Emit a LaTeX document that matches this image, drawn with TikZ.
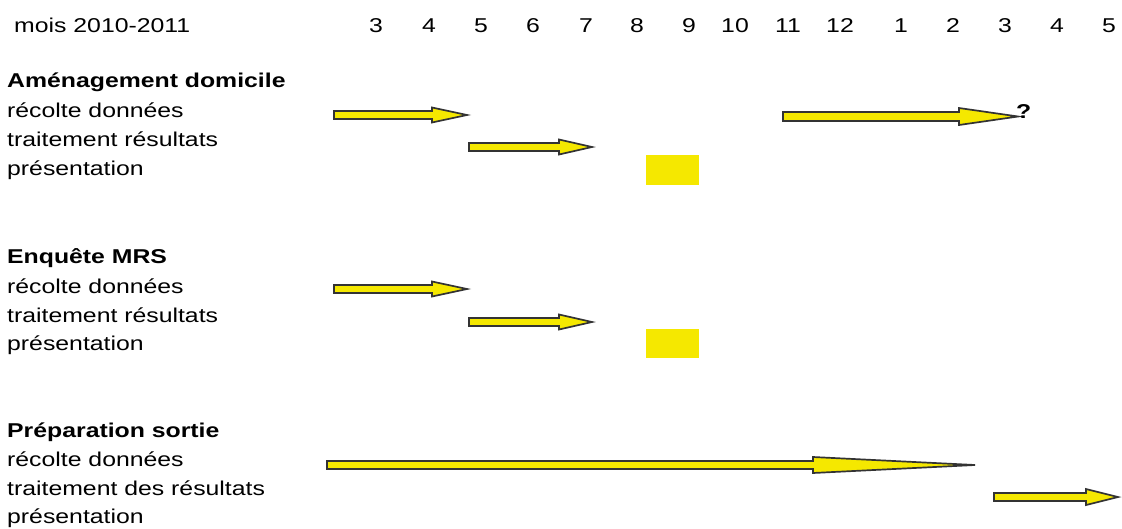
\documentclass[tikz,border=0pt]{standalone}
\usepackage{fontspec}
\setmainfont{Liberation Sans}[FakeStretch=1.24]
\definecolor{ganttyellow}{HTML}{F5E800}
\definecolor{ganttedge}{HTML}{333333}
\tikzset{
  lbl/.style={anchor=base west, inner sep=0pt, font=\fontsize{20}{24}\selectfont},
  ttl/.style={lbl, font=\fontsize{20}{24}\selectfont\bfseries},
  mon/.style={anchor=base, inner sep=0pt, font=\fontsize{20}{24}\selectfont},
  arr/.style={fill=ganttyellow, draw=ganttedge, line width=1.7pt, line join=miter},
  blk/.style={fill=ganttyellow, draw=none}
}
% x start, x tip, y centre, x head start, shaft half height, head half height
\newcommand\ganttarrow[6]{%
  \draw[arr] (#1,#3-#5) -- (#4,#3-#5) -- (#4,#3-#6) -- (#2,#3) -- (#4,#3+#6) -- (#4,#3+#5) -- (#1,#3+#5) -- cycle;}
\begin{document}
\begin{tikzpicture}[x=1pt,y=-1pt]
\useasboundingbox (0,0) rectangle (1122,528);
% header
\node[lbl] (hdr) at (14,32) {mois 2010-2011};
\foreach \m/\x [count=\i] in {3/376,4/429,5/481,6/533,7/586,8/637,9/689,10/735,11/788,12/840,1/901,2/953,3/1005,4/1057,5/1109}
  \node[mon] (m\i) at (\x,32) {\m};
% block 1
\node[ttl] (t1) at (7,87) {Aménagement domicile};
\node[lbl] (t1a) at (7,117) {récolte données};
\node[lbl] (t1b) at (7,146) {traitement résultats};
\node[lbl] (t1c) at (7,175) {présentation};
\ganttarrow{334}{467}{115}{432}{4}{7.5}
\ganttarrow{469}{592}{147}{559}{4}{7.5}
\ganttarrow{783}{1018}{116.5}{959}{4.5}{8.5}
\node[anchor=base west, inner sep=0pt, font=\fontsize{20}{24}\selectfont\bfseries] (q) at (1016,118) {?};
\fill[blk] (646,155) rectangle (699,185);
% block 2
\node[ttl] (t2) at (7,263) {Enquête MRS};
\node[lbl] (t2a) at (7,293) {récolte données};
\node[lbl] (t2b) at (7,322) {traitement résultats};
\node[lbl] (t2c) at (7,350) {présentation};
\ganttarrow{334}{467}{289}{432}{4}{7.5}
\ganttarrow{469}{592}{322}{559}{4}{7.5}
\fill[blk] (646,329) rectangle (699,358);
% block 3
\node[ttl] (t3) at (7,437) {Préparation sortie};
\node[lbl] (t3a) at (7,466) {récolte données};
\node[lbl] (t3b) at (7,495) {traitement des résultats};
\node[lbl] (t3c) at (7,523) {présentation};
\ganttarrow{327}{975}{465}{813}{4}{8}
\ganttarrow{994}{1118}{497}{1086}{4}{8}
\end{tikzpicture}
\end{document}
